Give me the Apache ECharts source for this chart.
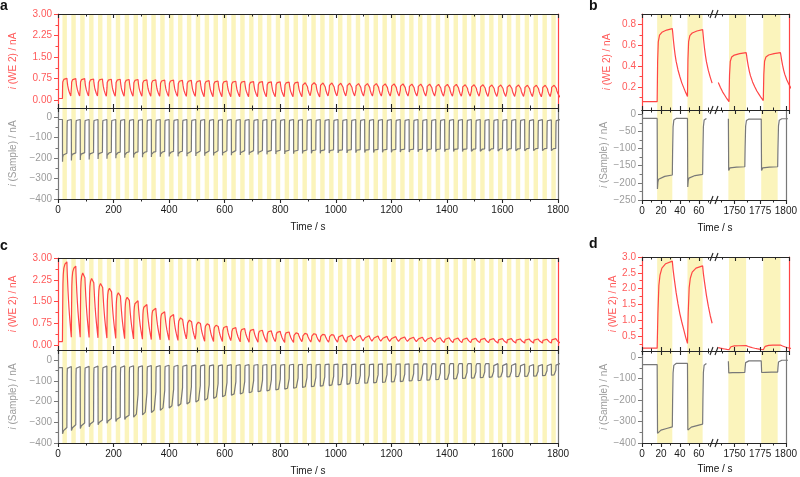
<!DOCTYPE html>
<html><head><meta charset="utf-8">
<script src="https://cdn.jsdelivr.net/npm/echarts@6/dist/echarts.min.js"></script>
<style>html,body{margin:0;padding:0;background:#fff}#c{width:800px;height:477px}</style>
</head><body><div id="c"></div>
<script>
// ---------- data ----------
const bandStarts = [16,48,80,112,144,176,208,240,272,304,336,368,400,432,464,496,528,560,592,624,656,688,720,752,784,816,848,880,912,944,976,1008,1040,1072,1104,1136,1168,1200,1232,1264,1296,1328,1360,1392,1424,1456,1488,1520,1552,1584,1616,1648,1680,1712,1744,1776];
const bandLength = 16;

// panel a / b : i(WE 2) peaks (end of each light period) and troughs (start of each light period, +final)
const aPeak = [0.76,0.75,0.75,0.74,0.74,0.73,0.73,0.72,0.72,0.71,
  0.71,0.70,0.70,0.69,0.69,0.68,0.68,0.67,0.67,0.66,
  0.66,0.65,0.65,0.64,0.64,0.63,0.63,0.62,0.62,0.61,
  0.61,0.60,0.60,0.59,0.59,0.59,0.58,0.58,0.58,0.57,
  0.57,0.57,0.56,0.56,0.56,0.55,0.55,0.55,0.54,0.54,
  0.54,0.54,0.53,0.53,0.53,0.53];
const aTrough = [0.06,0.11,0.11,0.11,0.11,0.10,0.10,0.10,0.10,0.10,
  0.10,0.10,0.10,0.10,0.10,0.10,0.09,0.09,0.09,0.09,
  0.09,0.09,0.09,0.09,0.09,0.09,0.09,0.09,0.09,0.08,
  0.08,0.08,0.08,0.08,0.08,0.08,0.08,0.08,0.08,0.08,
  0.08,0.08,0.08,0.08,0.08,0.08,0.08,0.08,0.07,0.07,
  0.07,0.07,0.07,0.07,0.06,0.07,0.10];
// normalized shape of one cycle [offset s, fraction of peak]
const aRedShape = [[0,0],[0.5,0.55],[1.2,0.82],[2.5,0.91],[5,0.95],[10,0.98],[16,1],[16.5,0.93],[17,0.85],[18,0.72],[19,0.61],[20,0.52],[22,0.39],[24,0.29],[26,0.2],[28,0.13],[30,0.06],[32,0]];

// panel a / b : i(Sample)
const aGrayBase = [-12,-12,-12,-12,-12,-12,-12,-12,-12,-12,
  -12,-12,-12,-12,-12,-12,-12,-12,-12,-12,
  -12,-12,-12,-12,-12,-12,-12,-12,-12,-12,
  -12,-12,-12,-12,-12,-12,-12,-12,-12,-12,
  -12,-12,-12,-12,-12,-12,-12,-12,-12,-12,
  -12,-12,-12,-13,-13,-14,-13];
const aGraySpike = [-218,-212,-210,-207,-205,-203,-201,-199,-198,-196,
  -195,-194,-193,-192,-191,-190,-189,-188,-187,-186,
  -185,-184,-183,-182,-181,-180,-179,-178,-177,-177,
  -176,-175,-175,-174,-173,-173,-172,-172,-171,-171,
  -170,-170,-169,-169,-168,-168,-167,-167,-166,-166,
  -165,-165,-165,-164,-164,-164];
const aGrayLevel = [-177,-175,-174,-173,-172,-172,-171,-170,-170,-169,
  -169,-168,-168,-167,-167,-166,-166,-165,-165,-164,
  -164,-164,-163,-163,-162,-162,-162,-161,-161,-160,
  -160,-160,-159,-159,-159,-158,-158,-158,-157,-157,
  -157,-156,-156,-156,-155,-155,-155,-155,-154,-154,
  -154,-154,-153,-153,-153,-153];
const aGrayOnShape = [[0.3,1],[0.8,0.5],[1.5,0.3],[3,0.2],[8,0.1],[16,0]];
const grayOffShape = [[16.3,0.6],[16.8,0.15],[17.6,0.03],[20,0],[32,0]];

// panel c / d : i(WE 2)
const cPeak = [2.87,2.72,2.55,2.36,2.18,2.01,1.85,1.69,1.53,1.40,
  1.27,1.15,1.05,0.96,0.88,0.81,0.75,0.70,0.65,0.60,
  0.57,0.54,0.51,0.49,0.47,0.45,0.43,0.41,0.40,0.38,
  0.37,0.35,0.34,0.33,0.32,0.31,0.30,0.29,0.28,0.27,
  0.27,0.26,0.25,0.25,0.24,0.24,0.23,0.23,0.22,0.22,
  0.22,0.21,0.21,0.21,0.20,0.22];
const cTrough = [0.12,0.27,0.27,0.26,0.25,0.24,0.23,0.22,0.21,0.20,
  0.19,0.18,0.17,0.16,0.15,0.14,0.13,0.12,0.12,0.11,
  0.11,0.10,0.10,0.10,0.09,0.09,0.09,0.09,0.08,0.08,
  0.08,0.08,0.08,0.08,0.08,0.07,0.07,0.07,0.07,0.07,
  0.07,0.07,0.07,0.07,0.07,0.07,0.07,0.07,0.07,0.07,
  0.07,0.07,0.07,0.07,0.07,0.07,0.07];
const cRedShape = [[0,0],[0.8,0.4],[1.8,0.72],[3,0.84],[5,0.92],[9,0.97],[16,1],[16.8,0.9],[18,0.79],[20,0.62],[22,0.48],[24,0.36],[26,0.26],[28,0.17],[30,0.08],[32,0]];

// panel c / d : i(Sample)
const cGrayBase = [-35,-30,-30,-29,-28,-28,-27,-27,-26,-26,
  -25,-25,-24,-24,-23,-23,-22,-22,-22,-21,
  -21,-21,-20,-20,-20,-20,-19,-19,-19,-19,
  -18,-18,-18,-18,-18,-18,-17,-17,-17,-17,
  -17,-17,-17,-16,-16,-16,-16,-16,-16,-16,
  -16,-16,-18,-20,-20,-18,-15];
const cGraySpike = [-355,-340,-330,-321,-312,-304,-296,-286,-275,-264,
  -253,-242,-231,-221,-211,-202,-193,-184,-176,-169,
  -163,-157,-152,-148,-143,-139,-135,-131,-128,-125,
  -122,-119,-116,-113,-111,-109,-107,-105,-103,-100,
  -98,-96,-94,-92,-90,-88,-86,-84,-82,-81,
  -80,-79,-78,-77,-74,-72];
const cGrayLevel = [-325,-312,-303,-296,-289,-282,-275,-266,-256,-246,
  -236,-226,-216,-207,-198,-190,-182,-174,-166,-160,
  -155,-150,-146,-142,-138,-134,-130,-127,-124,-121,
  -118,-115,-112,-110,-108,-106,-104,-102,-100,-98,
  -96,-94,-92,-90,-88,-86,-84,-82,-80,-79,
  -78,-77,-76,-75,-72,-70];
const cGrayOnShape = [[0.4,1],[1.2,0.7],[4,0.5],[10,0.25],[16,0]];

// tick values
const fullMajor = [0,200,400,600,800,1000,1200,1400,1600,1800];
const fullMinor = [100,300,500,700,900,1100,1300,1500,1700];
const leftMajor = [0,20,40,60], leftMinor = [10,30,50,70];
const rightMajor = [1750,1775,1800], rightMinor = [1737.5,1762.5,1787.5];
const weFullMajor = [0,0.75,1.5,2.25,3], weFullMinor = [0.375,1.125,1.875,2.625];
const sampleMajor400 = [0,-100,-200,-300,-400], sampleMinor400 = [-50,-150,-250,-350];
const weBMajor = [0.2,0.4,0.6,0.8], weBMinor = [0.1,0.3,0.5,0.7];
const sampleBMajor = [0,-50,-100,-150,-200,-250], sampleBMinor = [-25,-75,-125,-175,-225];
const weDMajor = [0.5,1.0,1.5,2.0,2.5,3.0], weDMinor = [0.25,0.75,1.25,1.75,2.25,2.75];

// ---------- build series ----------
function buildRed(peaks, troughs, shape) {
  const pts = [[0, troughs[0]]];
  bandStarts.forEach((s, k) => {
    shape.forEach(([o, f]) => {
      const b = o <= bandLength ? troughs[k] : troughs[k + 1];
      pts.push([s + o, +(b + f * (peaks[k] - b)).toFixed(4)]);
    });
  });
  return pts;
}
function buildGray(base, spike, level, onShape) {
  const pts = [[0, base[0]]];
  bandStarts.forEach((s, k) => {
    pts.push([s, base[k]]);
    onShape.forEach(([o, g]) => pts.push([s + o, level[k] + g * (spike[k] - level[k])]));
    grayOffShape.forEach(([o, h]) => pts.push([s + o, base[k + 1] + h * (level[k] - base[k + 1])]));
  });
  return pts;
}
const aRed = buildRed(aPeak, aTrough, aRedShape);
const cRed = buildRed(cPeak, cTrough, cRedShape);
const aGray = buildGray(aGrayBase, aGraySpike, aGrayLevel, aGrayOnShape);
const cGray = buildGray(cGrayBase, cGraySpike, cGrayLevel, cGrayOnShape);

// ---------- chart ----------
const FONT = '"Liberation Sans", Arial, Helvetica, sans-serif';
const RED = '#ff4545', REDTXT = '#ff5a5a', GRAY = '#787878', GRAYTXT = '#9c9c9c', AXIS = '#262626', BAND = '#fbf4bc';

const grids = [
  {left:53, top:14, width:505, height:94},   // 0 aTop
  {left:53, top:108, width:505, height:91},  // 1 aBot
  {left:53, top:258, width:505, height:92},  // 2 cTop
  {left:53, top:350, width:505, height:93},  // 3 cBot
  {left:642, top:14, width:72, height:96},   // 4 bTopL
  {left:714, top:14, width:75, height:96},   // 5 bTopR
  {left:642, top:110, width:72, height:90},  // 6 bBotL
  {left:714, top:110, width:75, height:90},  // 7 bBotR
  {left:642, top:257, width:72, height:94},  // 8 dTopL
  {left:714, top:257, width:75, height:94},  // 9 dTopR
  {left:642, top:351, width:72, height:92},  // 10 dBotL
  {left:714, top:351, width:75, height:92}   // 11 dBotR
];

const xAxes = [], yAxes = [], series = [], graphics = [];
const plain = v => String(v);

function addX(gi, position, range, major, minor, o) {
  const idx = xAxes.length;
  const base = {gridIndex:gi, type:'value', position, min:range[0], max:range[1], z:5, splitLine:{show:false}};
  xAxes.push(Object.assign({}, base, {
    axisLine:{show:true, onZero:false, lineStyle:{color:AXIS, width:1.2}},
    axisTick:{show:true, inside:o.inside, length:4, customValues:major, lineStyle:{color:AXIS, width:1.1}},
    axisLabel:o.labels ? {show:true, customValues:major, formatter:plain, color:'#1a1a1a', fontSize:10, margin:6, fontFamily:FONT} : {show:false},
    name:o.name || '', nameLocation:'middle', nameGap:23,
    nameTextStyle:{color:'#1a1a1a', fontSize:10, fontFamily:FONT}
  }));
  xAxes.push(Object.assign({}, base, {
    axisLine:{show:false, onZero:false},
    axisTick:{show:true, inside:o.inside, length:2.5, customValues:minor, lineStyle:{color:AXIS, width:1}},
    axisLabel:{show:false}
  }));
  return idx;
}
function addY(gi, position, range, major, minor, o) {
  const idx = yAxes.length;
  const base = {gridIndex:gi, type:'value', position, min:range[0], max:range[1], z:5, splitLine:{show:false}};
  yAxes.push(Object.assign({}, base, {
    axisLine:{show:true, onZero:false, lineStyle:{color:o.color, width:1.2}},
    axisTick:major ? {show:true, inside:false, length:4, customValues:major, lineStyle:{color:o.color}} : {show:false},
    axisLabel:major ? {show:true, customValues:major, formatter:o.fmt, color:o.txt, fontSize:10, margin:6, fontFamily:FONT} : {show:false},
    name:o.name || '', nameLocation:'middle', nameRotate:90, nameGap:o.gap || 40,
    nameTextStyle:{color:o.txt, fontSize:10, fontFamily:FONT,
      rich:{it:{fontStyle:'italic', color:o.txt, fontSize:10, fontFamily:FONT}}}
  }));
  if (minor) yAxes.push(Object.assign({}, base, {
    axisLine:{show:false, onZero:false},
    axisTick:{show:true, inside:false, length:2.5, customValues:minor, lineStyle:{color:o.color}},
    axisLabel:{show:false}
  }));
  return idx;
}
const fmt2 = v => v.toFixed(2);
const fmt1 = v => v.toFixed(1);
const fmtNeg = v => (v < 0 ? '\u2212' + (-v) : String(v));
const weName = '{it|i} (WE 2) / nA';
const sampleName = '{it|i} (Sample) / nA';

function addBands(gi, xi, yi, range) {
  const bands = bandStarts.filter(s => s >= range[0] && s + bandLength <= range[1])
    .map(s => [{xAxis:s}, {xAxis:s + bandLength}]);
  series.push({type:'line', xAxisIndex:xi, yAxisIndex:yi, data:[], z:1, silent:true,
    markArea:{silent:true, itemStyle:{color:BAND}, data:bands}});
}
function addLine(xi, yi, data, color) {
  series.push({type:'line', xAxisIndex:xi, yAxisIndex:yi, data, showSymbol:false, symbol:'none',
    z:3, clip:true, silent:true, lineStyle:{color, width:1.2}});
}

const FULL = [0, 1800], LEFT = [0, 76], RIGHT = [1730, 1800];
const segData = (d, range) => range === LEFT ? d.filter(p => p[0] <= 74.5) : range === RIGHT ? d.filter(p => p[0] >= 1733) : d;

function buildPair(gTop, gBot, range, xMaj, xMin, red, gray, cfg) {
  addX(gTop, 'top', range, xMaj, xMin, {inside:true});
  const xt = addX(gTop, 'bottom', range, xMaj, xMin, {inside:false});
  let yt;
  if (cfg.side === 'right') {
    yt = addY(gTop, 'right', cfg.yTop, null, null, {color:RED, txt:REDTXT});
  } else {
    yt = addY(gTop, 'left', cfg.yTop, cfg.topMaj, cfg.topMin, {color:RED, txt:REDTXT, fmt:cfg.topFmt, name:weName, gap:cfg.gapTop});
    if (cfg.side === 'both') addY(gTop, 'right', cfg.yTop, null, null, {color:RED, txt:REDTXT});
  }
  addBands(gTop, xt, yt, range);
  addLine(xt, yt, segData(red, range), RED);
  addX(gBot, 'top', range, xMaj, xMin, {inside:false});
  const xb = addX(gBot, 'bottom', range, xMaj, xMin, {inside:false, labels:true, name:cfg.xName});
  let yb;
  if (cfg.side === 'right') {
    yb = addY(gBot, 'right', cfg.yBot, null, null, {color:GRAY, txt:GRAYTXT});
  } else {
    yb = addY(gBot, 'left', cfg.yBot, cfg.botMaj, cfg.botMin, {color:GRAY, txt:GRAYTXT, fmt:fmtNeg, name:sampleName, gap:cfg.gapBot});
    if (cfg.side === 'both') addY(gBot, 'right', cfg.yBot, null, null, {color:GRAY, txt:GRAYTXT});
  }
  addBands(gBot, xb, yb, range);
  addLine(xb, yb, segData(gray, range), GRAY);
}

// a
buildPair(0, 1, FULL, fullMajor, fullMinor, aRed, aGray, {side:'both', yTop:[-0.27, 3], yBot:[-400, 44],
  topMaj:weFullMajor, topMin:weFullMinor, topFmt:fmt2, botMaj:sampleMajor400, botMin:sampleMinor400, xName:'Time / s', gapTop:40, gapBot:40});
// c
buildPair(2, 3, FULL, fullMajor, fullMinor, cRed, cGray, {side:'both', yTop:[-0.17, 3], yBot:[-400, 50],
  topMaj:weFullMajor, topMin:weFullMinor, topFmt:fmt2, botMaj:sampleMajor400, botMin:sampleMinor400, xName:'Time / s', gapTop:40, gapBot:40});
// b
buildPair(4, 6, LEFT, leftMajor, leftMinor, aRed, aGray, {side:'left', yTop:[-0.02, 0.9], yBot:[-250, 12.5],
  topMaj:weBMajor, topMin:weBMinor, topFmt:fmt1, botMaj:sampleBMajor, botMin:sampleBMinor, gapTop:30, gapBot:32});
buildPair(5, 7, RIGHT, rightMajor, rightMinor, aRed, aGray, {side:'right', yTop:[-0.02, 0.9], yBot:[-250, 12.5]});
// d
buildPair(8, 10, LEFT, leftMajor, leftMinor, cRed, cGray, {side:'left', yTop:[0.03, 3.0], yBot:[-400, 28],
  topMaj:weDMajor, topMin:weDMinor, topFmt:fmt1, botMaj:sampleMajor400, botMin:sampleMinor400, gapTop:22, gapBot:30});
buildPair(9, 11, RIGHT, rightMajor, rightMinor, cRed, cGray, {side:'right', yTop:[0.03, 3.0], yBot:[-400, 28]});

// axis-break marks and texts
function breakMark(x, y) {
  graphics.push({type:'group', x, y, z:100, silent:true, children:[
    {type:'rect', shape:{x:-4, y:-3, width:8, height:6}, style:{fill:'#fff'}},
    {type:'line', shape:{x1:-4, y1:4, x2:-1, y2:-4}, style:{stroke:AXIS, lineWidth:1.1}},
    {type:'line', shape:{x1:1, y1:4, x2:4, y2:-4}, style:{stroke:AXIS, lineWidth:1.1}}
  ]});
}
[14, 110, 200, 257, 351, 443].forEach(y => breakMark(714, y));
function txt(x, y, text, font, align, valign) {
  graphics.push({type:'text', x, y, z:100, silent:true,
    style:{text, font, fill:'#111', textAlign:align || 'left', textVerticalAlign:valign || 'bottom'}});
}
txt(0, 13, 'a', 'bold 14px ' + FONT);
txt(589, 13, 'b', 'bold 14px ' + FONT);
txt(0, 253, 'c', 'bold 14px ' + FONT);
txt(589, 251, 'd', 'bold 14px ' + FONT);
txt(715, 223, 'Time / s', '10px ' + FONT, 'center', 'top');
txt(715, 464, 'Time / s', '10px ' + FONT, 'center', 'top');

const chart = echarts.init(document.getElementById('c'), null, {renderer:'canvas'});
chart.setOption({
  animation:false,
  backgroundColor:'#fff',
  grid:grids,
  xAxis:xAxes,
  yAxis:yAxes,
  series,
  graphic:graphics
});
</script>
</body></html>
